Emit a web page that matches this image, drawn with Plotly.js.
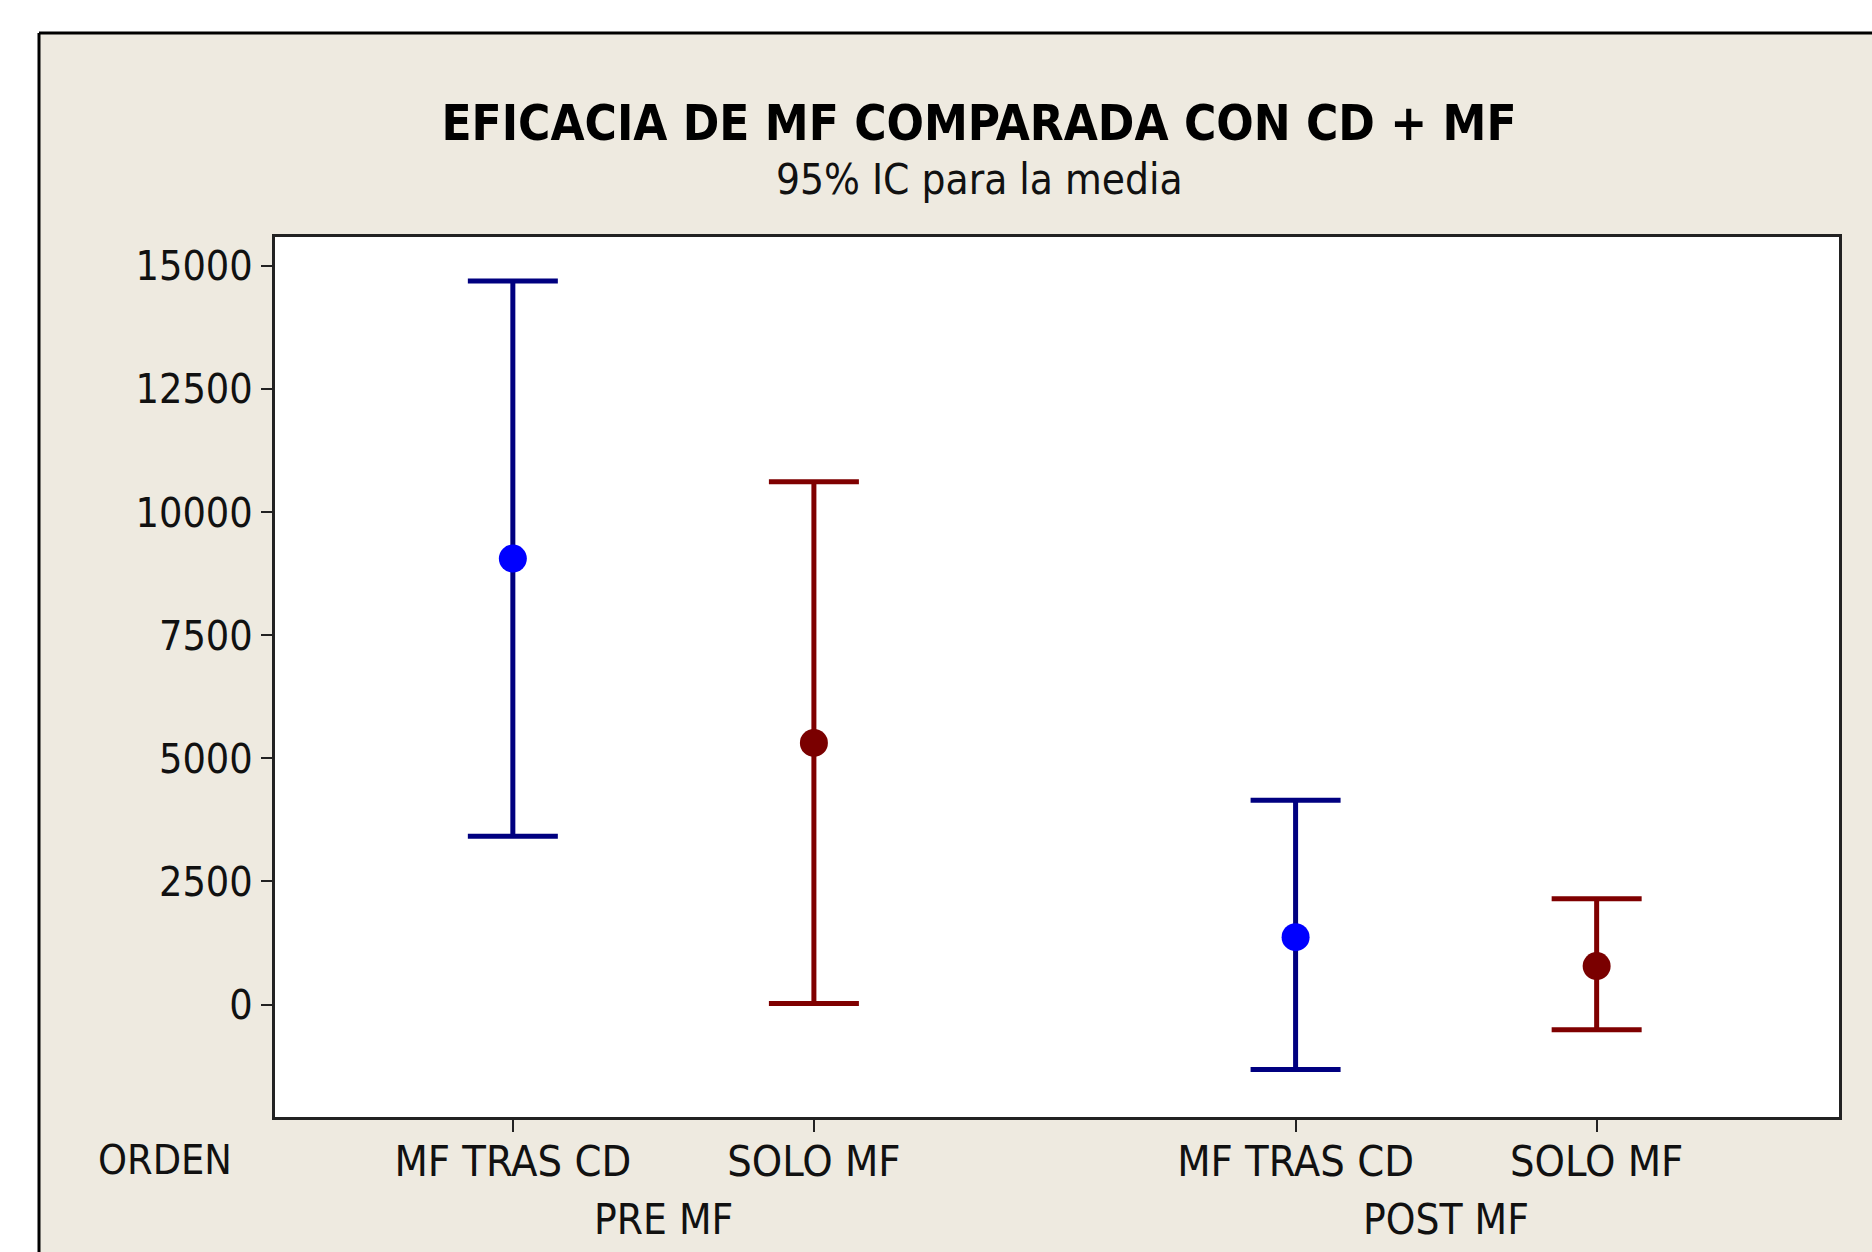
<!DOCTYPE html>
<html>
<head>
<meta charset="utf-8">
<script src="https://cdn.plot.ly/plotly-3.0.1.min.js"></script>
<style>html,body{margin:0;padding:0;background:#fff;}#chart{width:1872px;height:1252px;}</style>
</head>
<body>
<div id="chart"></div>
<script>
// ---- data ----
const groupLabels = ["PRE MF", "POST MF"];
const ordenLabels = ["MF TRAS CD", "SOLO MF"];
const groupOf = [0, 0, 1, 1];
const ordenOf = [0, 1, 0, 1];
const meanValues  = [9058, 5315, 1370, 783];
const upperValues = [14693, 10618, 4150, 2150];
const lowerValues = [3420, 20, -1320, -512];
const yTickValues = [0, 2500, 5000, 7500, 10000, 12500, 15000];
const yTickText   = ["0", "2500", "5000", "7500", "10000", "12500", "15000"];
const titleText = "EFICACIA DE MF COMPARADA CON CD + MF";
const subtitleText = "95% IC para la media";
const axisLabel = "ORDEN";

// ---- layout helpers ----
const GROUP_STEP = 2.6;
const pos = groupOf.map((g, i) => 1 + g * GROUP_STEP + ordenOf[i]);
const FONT = "'DejaVu Sans Condensed', 'DejaVu Sans', sans-serif";
const W = 1872, H = 1252;
const L = 275, R = 1839, T = 237, B = 1117;
const px2x = p => (p - L) / (R - L);
const px2y = p => (B - p) / (B - T);

const seriesStyle = [
  {bar: "#000080", marker: "#0000FF"},
  {bar: "#7F0000", marker: "#7A0000"}
];

const traces = ordenLabels.map((name, k) => {
  const idx = ordenOf.map((o, i) => o === k ? i : -1).filter(i => i >= 0);
  return {
    type: "scatter",
    mode: "markers",
    name: name,
    x: idx.map(i => pos[i]),
    y: idx.map(i => meanValues[i]),
    marker: {color: seriesStyle[k].marker, size: 28},
    error_y: {
      type: "data",
      symmetric: false,
      array: idx.map(i => upperValues[i] - meanValues[i]),
      arrayminus: idx.map(i => meanValues[i] - lowerValues[i]),
      color: seriesStyle[k].bar,
      thickness: 5,
      width: 45
    },
    showlegend: false,
    hoverinfo: "x+y"
  };
});

const annotations = [
  {text: subtitleText, xref: "paper", yref: "paper", x: px2x(979), y: px2y(179),
   xanchor: "center", yanchor: "middle", showarrow: false,
   font: {family: FONT, size: 42, color: "#111"}},
  {text: axisLabel, xref: "paper", yref: "paper", x: px2x(165), y: px2y(1160),
   xanchor: "center", yanchor: "middle", showarrow: false,
   font: {family: FONT, size: 41, color: "#111"}}
];
groupLabels.forEach((g, gi) => {
  const members = pos.filter((p, i) => groupOf[i] === gi);
  const cx = members.reduce((a, b) => a + b, 0) / members.length;
  annotations.push({text: g, xref: "x", yref: "paper", x: cx, y: px2y(1219),
    xanchor: "center", yanchor: "middle", showarrow: false,
    font: {family: FONT, size: 42, color: "#111"}});
});

const frameX = px2x(39), frameY = px2y(33);
const shapes = [
  {type: "rect", xref: "paper", yref: "paper", x0: px2x(-10), x1: px2x(W + 10), y0: frameY, y1: px2y(-10),
   fillcolor: "#ffffff", line: {width: 0}, layer: "below"},
  {type: "rect", xref: "paper", yref: "paper", x0: px2x(-10), x1: frameX, y0: px2y(H + 10), y1: px2y(-10),
   fillcolor: "#ffffff", line: {width: 0}, layer: "below"},
  {type: "line", xref: "paper", yref: "paper", x0: frameX, x1: px2x(W + 10), y0: frameY, y1: frameY,
   line: {color: "#000", width: 3}},
  {type: "line", xref: "paper", yref: "paper", x0: frameX, x1: frameX, y0: frameY, y1: px2y(H + 10),
   line: {color: "#000", width: 3}}
];

const layout = {
  width: W, height: H,
  margin: {l: L, r: W - R, t: T, b: H - B, pad: 0},
  paper_bgcolor: "#EEEAE0",
  plot_bgcolor: "#FFFFFF",
  font: {family: FONT, color: "#111"},
  title: {text: "<b>" + titleText + "</b>", xref: "container", yref: "container",
          x: 979 / W, y: 1 - 123 / H, xanchor: "center", yanchor: "middle",
          font: {family: FONT, size: 49, color: "#000"}},
  xaxis: {range: [0.21, 5.405], tickvals: pos, ticktext: ordenOf.map(o => ordenLabels[o]),
          ticks: "outside", ticklen: 12, tickwidth: 2, tickcolor: "#222",
          showline: true, mirror: true, linecolor: "#222", linewidth: 3,
          showgrid: false, zeroline: false, ticklabelstandoff: -8,
          tickfont: {family: FONT, size: 43, color: "#111"}},
  yaxis: {range: [-2283, 15589], tickvals: yTickValues, ticktext: yTickText,
          ticks: "outside", ticklen: 11, tickwidth: 2, tickcolor: "#222",
          showline: true, mirror: true, linecolor: "#222", linewidth: 3,
          showgrid: false, zeroline: false, ticklabelstandoff: 0,
          tickfont: {family: FONT, size: 41, color: "#111"}},
  annotations: annotations,
  shapes: shapes,
  showlegend: false
};

Plotly.newPlot("chart", traces, layout, {displayModeBar: false, staticPlot: true});
</script>
</body>
</html>
